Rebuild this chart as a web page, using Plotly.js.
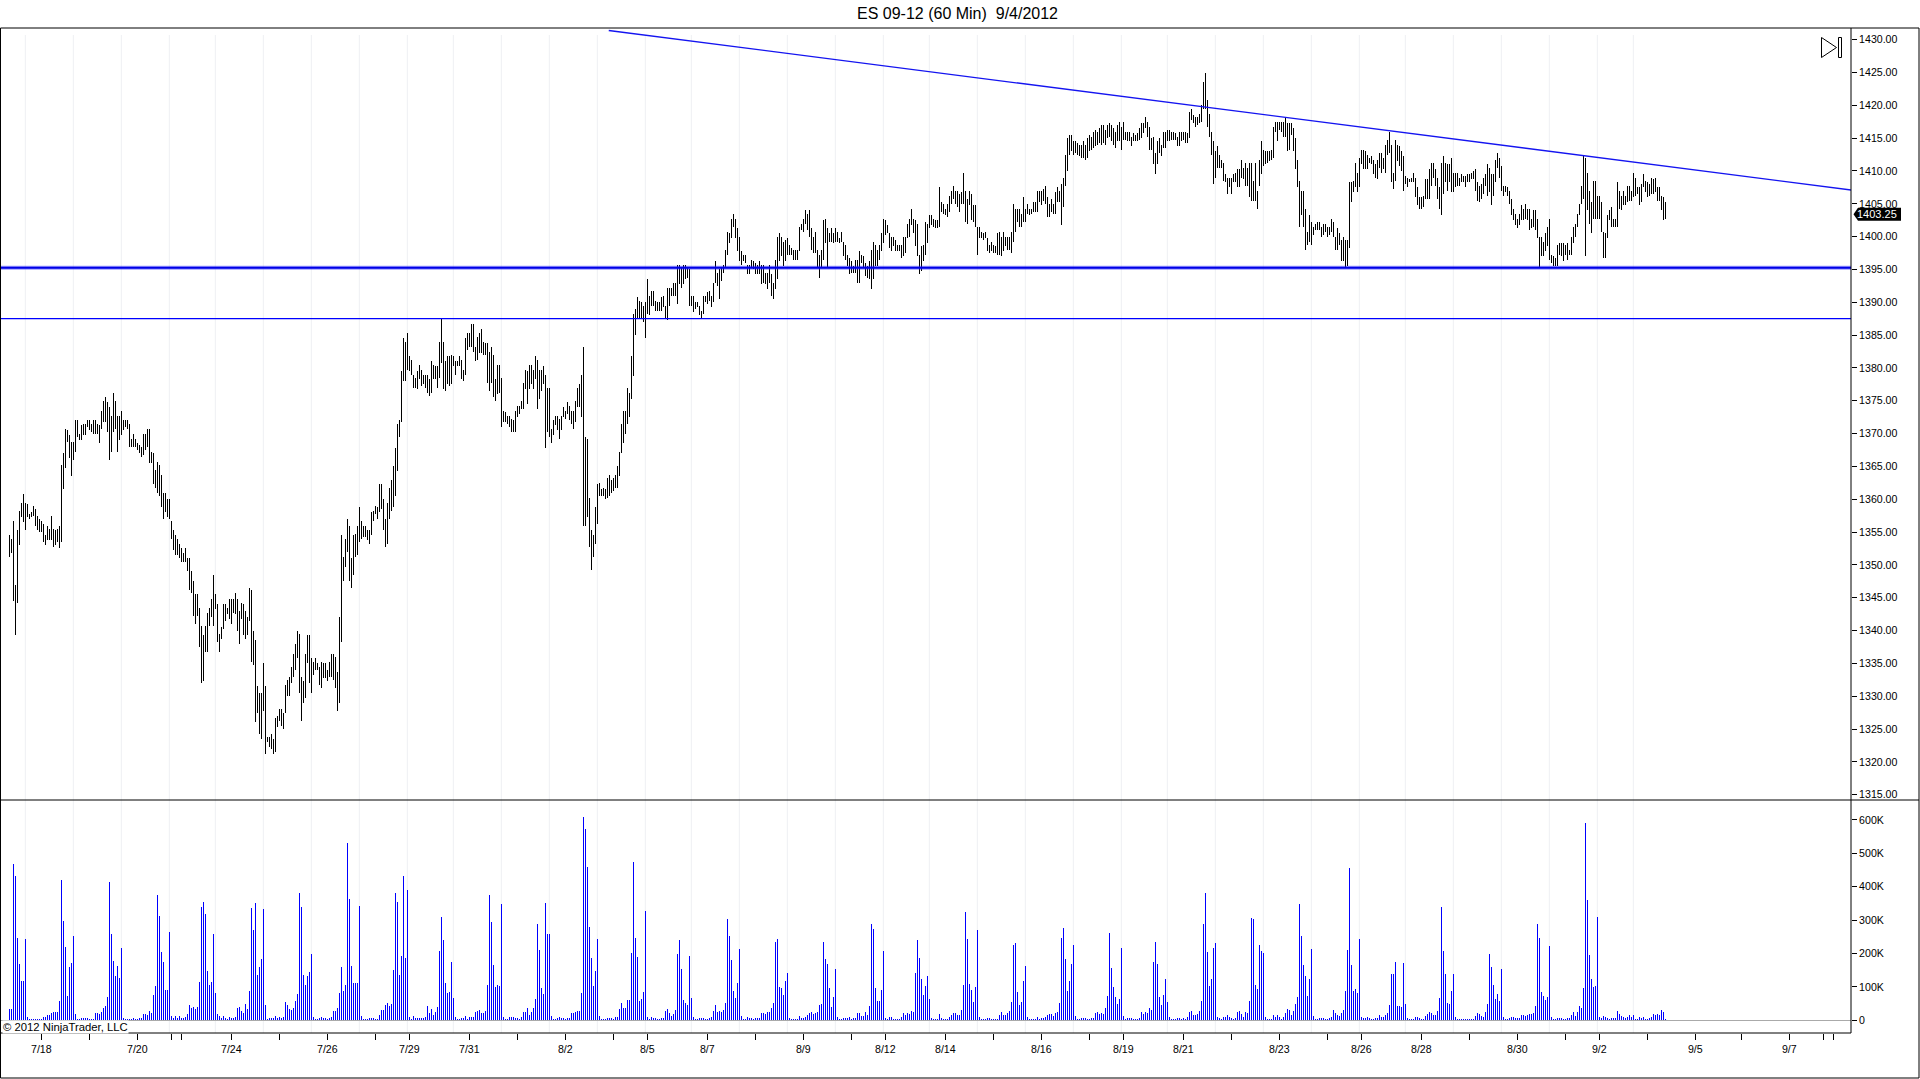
<!DOCTYPE html>
<html>
<head>
<meta charset="utf-8">
<script src="https://cdn.plot.ly/plotly-3.0.1.min.js"></script>
<style>html,body{margin:0;padding:0;background:#fff;overflow:hidden}#chart{width:1920px;height:1079px}</style>
</head>
<body>
<div id="chart"></div>
<script>
const titleText = "ES 09-12 (60 Min)\u00A0\u00A09/4/2012";
const copyrightText = "\u00A9 2012 NinjaTrader, LLC";
const lastPrice = 1403.25;
const supportLevel = 1395.25;
const secondLevel = 1387.5;

const highsA = [1354.5,1354,1356.75,1347,1355.25,1358.25,1359.5,1360.75,1359.5,1359.25,
1357.75,1358,1359,1358.5,1357.5,1357,1356.75,1356.25,1354.5,1356,
1355.5,1357.5,1355.5,1355.25,1355.5,1356,1365.25,1367,1370.75,1370.5,
1369.75,1368.75,1368.75,1372,1372,1370,1371.25,1371.5,1371.5,1372,
1372,1371.5,1372,1372,1371.5,1371.25,1373.5,1375,1375.5,1374.75,
1374,1372.75,1376.25,1375,1372.75,1372.75,1373.5,1372,1372,1372,
1371.5,1369.25,1370,1369.25,1368.5,1368.25,1368,1370,1370,1370.75,
1370.75,1367.25,1367,1364.5,1365.75,1365.25,1363.75,1361,1361,1360,
1360,1356.75,1355.25,1354.5,1354,1353.25,1352.5,1351.75,1352.5,1351,
1351,1349,1347.5,1345.5,1345.5,1343.5,1340.75,1339.25,1340.75,1342.75,
1343.5,1344.75,1348.5,1345.5,1344,1339.5,1340.5,1344,1344,1343.5,
1344.75,1344.75,1344.75,1345.75,1344.75,1343,1344.25,1344,1343,1342,
1346.5,1346.25,1340,1338.5,1331.5,1330.5,1330.5,1335,1331.5,1323.75,
1323.75,1324.25,1323.5,1326.75,1327,1328];
const lowsA = [1351.25,1351.75,1344.5,1339.25,1344.25,1353,1357.25,1356.5,1355.25,1357.25,
1357,1357.25,1357.5,1356,1355.25,1355,1355,1353.5,1353,1353.75,
1353.75,1353.75,1352.75,1353,1353.5,1352.5,1353.5,1361.5,1364.75,1368.75,
1366.25,1363.5,1366,1367.25,1369.5,1369,1369,1369.75,1369.75,1371,
1370.5,1370.25,1370,1370,1370,1368.5,1370.75,1371.75,1371.75,1370.25,
1366,1367.25,1370.25,1370.75,1367.25,1369,1369.75,1370.5,1371,1370.75,
1368,1368,1368,1368,1367.5,1367,1366.5,1366.75,1367.5,1368,
1365.5,1365.5,1362.25,1361.75,1361,1360.5,1358.75,1357,1358,1357.25,
1357,1354,1352.25,1351.5,1351.5,1351,1350.5,1350.5,1350.5,1349,
1346.25,1345.75,1342.25,1341,1342.25,1337.5,1332,1332.25,1336.75,1336.75,
1340.75,1342,1340.75,1343.25,1338.25,1336.75,1338.75,1340.25,1341.5,1342.5,
1341.75,1341,1342.75,1342.5,1340,1338,1341.75,1339.25,1338.75,1339.25,
1341.5,1335.25,1334.75,1326,1327.5,1324.25,1323.5,1327.75,1321.25,1323,
1322.25,1322,1321.25,1321.5,1325.25,1326.25];

const highsB = [1328,1327.5,1331.75,1332.5,1333,1334.5,1336.5,1338,1340,1339.5,
1333,1332.25,1336.5,1339.25,1339.25,1335.75,1335.25,1335.75,1335,1334.5,
1335.25,1335,1335,1334,1335.25,1336.5,1336.5,1336,1333.75,1342,
1354.5,1351.25,1354,1357,1356,1351,1354.5,1354.75,1356,1358.75,
1356.75,1356,1356,1355.25,1355.25,1358,1358.25,1359,1358.75,1362.25,
1362.25,1360,1357,1359.5,1361.75,1363,1365,1367.75,1371.5,1372,
1379.5,1384.5,1384,1385.25,1381.75,1381.25,1379,1378.5,1379.5,1380.5,
1379.75,1379,1379,1379,1378.25,1381,1380.5,1380.25,1380.25,1384,
1387.5,1384,1381,1381.75,1381.75,1382,1381.75,1381,1381,1381.75,
1381.25,1379.75,1384.5,1385.25,1385.25,1386.75,1386.75,1383.25,1384.75,1385.25,
1386,1384,1383.75,1383.75,1382.5,1383.25,1382,1378.25,1380.5,1380.5,
1378.5,1373.5,1373.25,1372.75,1372.75,1372.25,1372,1373.5,1374.25,1374.25,
1375,1377.75,1379.75,1379.5,1380.5,1380.5,1379.75,1381.75,1381.25,1379.75,
1379.75,1380.25,1379,1377,1377,1370.75,1372,1372.75,1372.75,1372.25];
const lowsB = [1325.5,1325,1327.5,1330,1330,1332,1333,1334,1335.75,1330.5,
1326.25,1329,1329.75,1335,1332,1330.5,1333.25,1334,1334,1331.75,
1331.25,1332.75,1332.75,1332.25,1333,1333,1332.5,1331.25,1327.75,1329,
1338.25,1347.5,1349.75,1352,1347.5,1346.5,1348.5,1351.25,1351.5,1353.5,
1354,1354.25,1354.25,1353.75,1353.25,1354.5,1356.75,1357.75,1357,1358,
1358.5,1355.25,1352.75,1353.25,1357,1358.25,1358.75,1360.5,1364.25,1369.5,
1371.75,1378,1378,1379.75,1379.5,1379,1377,1377,1376.75,1378.25,
1377.25,1377.5,1377,1376.25,1375.75,1376.25,1378.25,1378.25,1377,1378.5,
1380.75,1376.75,1376.5,1377.5,1377.25,1377.5,1380.25,1379,1380.25,1380.25,
1378.25,1378,1379,1382.75,1383.25,1383.25,1382.5,1381,1381.25,1382.25,
1382.25,1382,1382,1377.75,1376.5,1377.75,1375.5,1375,1376,1376.25,
1371,1371.75,1371.75,1371.5,1371,1370.25,1370.25,1370.25,1372.5,1373,
1373.75,1373.75,1376.75,1374.5,1376.75,1377.5,1376.75,1378.25,1373.75,1375.25,
1376.5,1377.5,1367.75,1370.25,1369.5,1368.5,1369.75,1371.25,1370.5,1369.25];

const highsC = [1372.75,1374,1373.5,1374.75,1374.25,1373.5,1373.5,1375,1377,1377.5,
1379,1383.25,1369.5,1369.25,1360.25,1355.25,1354.5,1358.75,1362.25,1362.5,
1361.5,1361.75,1361.5,1363.25,1363.75,1363,1363.25,1363.75,1365,1367.25,
1371.5,1373.5,1373.5,1377,1376.25,1381.75,1388.25,1389,1390.75,1390.25,
1390,1389.5,1390,1393.5,1391,1391.75,1391.75,1390.25,1390,1390,
1390.75,1391,1389.5,1392.25,1392.25,1392.25,1393,1393,1395.75,1395.75,
1395.25,1395.75,1395.75,1395.25,1395,1391,1391,1390,1390,1389.5,
1388.75,1391,1391,1391.5,1391.75,1391,1393,1396.25,1394.5,1395,
1395.25,1395.75,1398,1400.75,1400.5,1402.75,1403.5,1402.75,1401.25,1400,
1397.75,1397.25,1397.25,1395.75,1395.75,1396.5,1396.25,1396,1395.75,1396.25,
1395.75,1395.75,1394.5,1394.5,1395.75,1394.25,1393,1396.5,1400,1400.5,
1400,1399.25,1399.5,1399.75,1398.75,1398.25,1398,1398,1398,1401.5,
1402,1402.75,1404,1403.5,1404,1401.25,1400,1400.75,1398,1397.25,
1398,1402.5,1402.75,1401.25,1400.5,1401.25,1400.5,1401.25,1400.75,1399.75];
const lowsC = [1370.5,1372.5,1372.25,1373,1372,1371.5,1370.75,1371.75,1374,1374,
1372.5,1356,1356,1357.25,1352.75,1349.25,1351.25,1353.25,1356.25,1360.5,
1360.5,1360.5,1360,1360.25,1360.5,1361,1361.25,1361.75,1361.75,1363.5,
1367,1368.5,1370,1371.5,1372.5,1375.25,1378.75,1385,1387.5,1387.5,
1387.5,1387,1384.5,1388.25,1388,1389.5,1389.5,1388.75,1388.75,1388.75,
1388.75,1389.25,1387.5,1387.25,1389.5,1391,1391,1391,1389.75,1392.75,
1392.25,1392.75,1393.5,1393.75,1389.5,1389.5,1388.5,1389,1389.25,1388,
1387.5,1388.25,1390,1389.75,1390.25,1389.25,1390,1393,1392.5,1390.5,
1393.25,1394.5,1395.25,1397.25,1399,1399.75,1401.5,1399.75,1397.75,1396.25,
1395.75,1396.25,1396,1394.25,1394.25,1395.25,1395,1394.25,1394.25,1394.25,
1392.75,1393,1392.75,1392,1393,1391,1390.5,1392,1393.5,1396.25,
1397,1395.5,1396.25,1397.25,1397.25,1397.25,1396.5,1396.5,1396.5,1397.75,
1401,1400.75,1402,1401,1400,1398,1397.5,1397.5,1395.25,1393.75,
1395.25,1396.5,1399,1395.25,1399.25,1399.25,1399,1399.25,1399.25,1399];

const highsD = [1400.75,1399.25,1398.75,1397.25,1396.75,1396.25,1395.5,1396.5,1396.5,1397.75,
1397.25,1397,1396,1395.5,1396.25,1398,1399.25,1398.75,1398,1398.75,
1400.5,1402.75,1402.5,1401.75,1400.5,1400,1400,1399.5,1398.75,1398.75,
1398.75,1400,1400,1402,1402.75,1404.25,1402.75,1402.5,1402,1397.25,
1398.5,1398.75,1402.25,1402,1403.25,1403.25,1402.75,1402.5,1402.5,1407.5,
1405.25,1405,1404.25,1405,1406.25,1407,1407.75,1407,1407,1406.5,
1406.75,1409.75,1407,1405.75,1407,1406.5,1404.75,1404.75,1401.5,1401.5,
1400.75,1400.5,1400.75,1399.75,1398.75,1399.25,1398.75,1398.5,1400.5,1400.75,
1400,1400.75,1400,1400,1400,1400.75,1405,1404.25,1404.25,1404.25,
1403.5,1406,1404.25,1405,1404.25,1404.25,1405.25,1405.25,1407,1407,
1407,1407.25,1407.75,1406,1405,1405.75,1405,1406.75,1407.5,1407,
1408,1409,1412.5,1415,1415.5,1415.5,1414.5,1414.5,1414.25,1414,
1414,1414.5,1414,1415,1415.5,1415.25,1416,1416.25,1416,1416.5,
1417,1417,1416.25,1417,1417.25,1417,1416.5,1416,1417,1417.5];
const lowsD = [1399.25,1397,1396.5,1395.5,1394.25,1394.5,1394.5,1394.5,1393,1393,
1396,1395.25,1394,1393.75,1393.5,1392,1393.5,1395.5,1395.5,1396.5,
1397.75,1399,1400.25,1400.5,1398.25,1397.75,1398.5,1397.75,1397.75,1397.75,
1396.75,1397,1397.5,1399.75,1400,1401.75,1400.5,1398.5,1397,1394.25,
1394.75,1396.25,1397.25,1399,1401.25,1401.75,1401.5,1401.25,1401.25,1401.5,
1403.75,1403.5,1403.25,1403,1403.75,1405,1405.75,1405,1404.5,1403.75,
1405,1405,1402.25,1402,1404.75,1402.5,1402.25,1401.5,1397.25,1399.75,
1399.75,1399.5,1399.75,1397.75,1397.5,1397.75,1397.5,1397.5,1397.25,1397.25,
1397,1397.75,1398.5,1398,1398,1397.5,1399.25,1400.75,1402.25,1401.5,
1401.5,1402.25,1402.25,1403.5,1403.25,1403.5,1403.75,1403.75,1403.75,1405.25,
1404.75,1405.5,1405,1403,1403,1403.75,1403.5,1403.5,1405.25,1405.25,
1401.75,1404.5,1407.75,1410,1412.5,1413,1412.5,1412.75,1412.5,1412.25,
1412,1412,1411.75,1412,1413,1413.25,1413.5,1413.75,1414,1414.25,
1414,1414.25,1414,1415,1415.25,1414.5,1414,1413.5,1414.5,1414.5];

const highsE = [1416.75,1417.5,1416,1416,1416,1415.25,1415.75,1415.5,1415.75,1416.5,
1417.25,1417.25,1418.25,1417.5,1416.75,1415,1415.25,1412.75,1414.5,1415,
1414,1416,1416,1416.25,1416.25,1416,1416,1415.75,1415.25,1416,
1416,1416,1416,1415.75,1419,1419.5,1418.5,1418.25,1418.25,1418.75,
1420,1423.5,1425,1420.75,1418.75,1416,1414.5,1413,1413.75,1412.5,
1411.75,1411.25,1409.5,1409,1409,1409,1409.5,1409.75,1410.25,1410.25,
1411.75,1410.5,1411.25,1410.5,1411.25,1411.25,1408.5,1411.25,1407,1411.75,
1414.5,1413.25,1413,1413,1413,1413.25,1416.75,1417.5,1417.5,1417.5,
1417.5,1417.5,1418.25,1417.25,1417.25,1417.25,1416.5,1415,1411.75,1408.5,
1407,1407,1404.25,1400.75,1403.25,1402.25,1401.5,1402,1402.25,1402.25,
1401.5,1402,1402,1401.5,1401.5,1402.75,1402.25,1400,1401.25,1400.5,
1399.5,1400,1399.5,1399.5,1408.25,1408.25,1408.5,1411.25,1409.75,1412,
1413.25,1413.25,1413,1412.5,1412,1412.25,1411.75,1411,1411.75,1412.75,
1412.75,1412,1414,1414.75,1416,1414,1409.75,1414.75,1414,1413.75];
const lowsE = [1413.25,1414.75,1414.75,1414.5,1414.5,1413.75,1414.5,1414.5,1414.5,1414.75,
1415,1415.75,1416.5,1415.25,1413.25,1413.25,1411,1409.5,1411,1412.75,
1412.25,1413.5,1413.5,1414.5,1414.5,1414.75,1414.75,1414.75,1413.75,1413.75,
1414.5,1414.75,1414.25,1414.25,1415,1417.75,1417.25,1416.75,1417,1417.25,
1417.5,1419.5,1419.5,1416.75,1415.25,1412.5,1408,1409,1410.5,1410.5,
1410.5,1408.5,1408.25,1406.5,1407.5,1406.5,1408.25,1408.25,1407.5,1407.5,
1409,1408.75,1407.75,1407.75,1406,1405.5,1405.5,1405.5,1404.25,1407.75,
1409.5,1410.75,1411,1411.25,1411.5,1411.75,1412,1416,1414.5,1416.25,
1416,1415.25,1415.25,1413,1413.25,1415.5,1413,1410.25,1407.5,1401.5,
1403.25,1401.5,1398,1398.75,1399.25,1398.75,1400.25,1401,1401,1401,
1400,1400.25,1400.75,1400,1400.25,1400.75,1400,1398,1398,1398.75,
1396.25,1396.25,1395.25,1395.5,1398.25,1405.25,1406.75,1407.5,1406.75,1407.5,
1411,1410.25,1410.25,1410.25,1411.25,1411,1409.5,1409,1408.75,1410.5,
1409.75,1410.25,1409.75,1412.5,1412.75,1408.25,1407.25,1408.5,1411.5,1410.75];

const highsF = [1413,1412.25,1409.25,1409,1408.75,1409,1409.75,1409,1407.5,1406,
1406,1406.25,1408.75,1408.75,1410.25,1411.25,1411.25,1410.25,1409,1407.5,
1411.25,1412.25,1411.25,1411,1411,1412,1409.75,1409.75,1409.75,1409,
1409.5,1409.25,1409.25,1409.5,1409.5,1409.75,1410,1410.25,1408.25,1407.75,
1408,1409,1409.5,1411,1410.5,1409.5,1409.5,1411.75,1412.75,1412,
1410.75,1407.75,1407.75,1407.5,1407,1405.75,1404.25,1403.5,1402.75,1403.5,
1404.75,1404.25,1405,1404.25,1404.25,1402.75,1404,1404,1402.75,1400,
1400,1399.25,1400.5,1401.5,1402.75,1397.25,1397,1396.75,1398.75,1399,
1399,1399,1398.75,1399,1398,1400,1401.5,1402,1403.5,1405,
1407.75,1412.5,1412,1409.75,1407,1405.25,1408.5,1408.5,1406.25,1406.25,
1405.25,1400.75,1400.5,1403.25,1404,1404.5,1402.75,1402.75,1408.25,1407,
1406.25,1407,1406.25,1407.75,1407.75,1407,1409.75,1409,1407.5,1407.5,
1408,1409.5,1408.5,1408.25,1408,1409,1408.75,1409,1407.5,1407.5,
1406.25,1406,1405.25];
const lowsF = [1410,1407,1408,1407.5,1408.25,1408.25,1408.25,1406,1404.75,1404.25,
1404.25,1404.5,1405.75,1405.75,1405.75,1407.75,1409,1407.75,1405.75,1404.25,
1403.25,1406.5,1408.25,1407,1408.25,1406.75,1406.75,1407.5,1407.75,1407.75,
1408.25,1408.25,1407.5,1408.25,1408.25,1408.75,1408.75,1407,1405.5,1405.25,
1405.75,1406.5,1407.75,1406.25,1406.75,1404.75,1406.25,1408.25,1410.5,1409,
1407,1406.25,1406.75,1406.25,1405,1403.25,1402.5,1401.75,1401.25,1401.75,
1402.5,1402.5,1402.75,1402.5,1401,1401.25,1401.5,1401,1399.75,1395.25,
1397,1397,1397.75,1398.5,1396.5,1396,1395.5,1395.5,1395.5,1397.25,
1397,1396.25,1397.25,1396.5,1397.25,1397.25,1399,1400,1401.5,1403.25,
1405,1405.75,1397,1404,1402,1400.5,1402.75,1402.75,1402.75,1402.75,
1400.75,1396.75,1396.75,1399.75,1402.5,1401.5,1401.5,1401.5,1401.5,1404.25,
1404,1404.75,1404.75,1405.25,1405.5,1405.5,1406,1406.25,1406.5,1404.75,
1405.25,1407.5,1406.75,1406,1406.25,1406.5,1406.5,1406.75,1405.5,1405.5,
1404,1402.5,1402.75];

/* Volume, in contracts (thousands) */
const volumeK = [34,34,469,433,247,169,118,118,244,10,5,3,5,5,5,5,5,10,10,16,16,22,25,24,25,58,421,298,220,73,160,172,253,19,3,5,7,7,7,7,3,5,5,22,22,19,25,37,43,70,
415,259,178,133,163,127,217,7,5,3,5,3,7,5,5,7,7,19,19,16,28,22,76,103,376,313,205,175,91,91,265,13,7,13,7,13,7,7,10,19,46,37,40,34,40,115,340,355,319,148,
106,115,259,82,19,13,7,13,7,4,10,7,7,10,37,40,28,22,49,34,88,337,271,352,136,160,184,334,46,4,7,7,7,13,7,10,7,10,55,46,34,31,37,58,79,382,340,136,106,133,
145,199,10,4,4,7,10,7,7,4,7,10,28,28,37,82,160,88,106,532,364,163,112,112,112,343,13,4,4,4,7,7,7,4,4,16,31,31,46,52,43,49,151,382,355,136,193,433,187,391,
10,4,13,7,7,7,7,7,10,43,22,34,16,25,40,208,310,241,112,82,85,175,67,10,4,4,7,7,13,4,10,10,10,25,28,31,22,22,28,106,376,295,166,100,106,103,349,10,4,4,10,10,
10,7,7,4,10,25,25,37,16,25,37,64,289,211,97,79,352,259,259,13,4,4,7,10,7,7,4,7,7,22,22,25,28,28,82,610,574,460,280,187,103,148,244,13,4,4,4,7,7,7,4,10,10,34,
52,37,37,61,61,202,475,247,190,58,64,85,328,10,4,10,7,7,4,4,7,7,28,34,22,13,19,31,199,241,154,61,52,46,193,67,10,4,4,7,7,7,4,4,7,10,28,46,25,28,25,31,52,304,
253,181,88,67,112,214,13,4,4,10,7,7,4,7,7,7,22,22,19,25,25,37,52,235,244,100,97,76,118,142,7,4,4,4,4,13,7,7,10,16,22,25,19,22,25,46,49,235,184,169,97,40,70,154,
10,4,4,7,7,7,10,4,7,7,22,22,13,13,25,16,43,289,274,97,58,58,91,208,7,4,10,10,4,4,4,4,10,22,16,22,19,28,25,142,241,187,124,76,103,133,64,7,4,4,4,19,7,4,4,4,
10,16,22,22,16,16,31,106,325,244,109,91,55,100,271,10,4,4,4,7,7,4,4,4,4,16,25,16,16,22,28,55,226,232,85,46,55,118,163,10,4,4,4,4,10,4,7,7,10,16,19,19,13,22,25,
52,247,277,184,88,118,169,226,13,4,4,7,7,7,4,4,7,7,22,25,19,22,19,37,73,262,157,100,70,49,64,217,13,4,7,7,7,4,4,4,7,25,19,25,22,37,31,175,235,169,70,46,76,124,
55,10,4,4,4,7,7,4,7,4,10,25,28,16,16,19,28,58,289,382,205,103,124,217,232,10,7,4,10,10,16,10,7,4,7,25,28,19,10,25,22,58,307,304,106,94,226,208,202,10,4,4,4,16,10,16,
10,4,10,22,34,31,16,28,49,70,349,253,166,133,73,124,214,13,4,4,7,7,7,4,4,7,10,31,22,16,13,22,31,88,211,457,166,88,94,82,244,10,7,7,10,7,4,4,7,7,16,10,10,16,22,46,
139,139,175,43,43,40,172,49,7,4,4,4,10,10,7,4,4,13,19,25,22,16,16,28,67,340,208,139,52,49,88,139,10,4,4,4,4,4,4,4,4,4,13,22,19,13,10,25,49,199,160,106,64,79,58,154,
10,4,4,7,10,10,7,7,7,16,16,13,16,19,19,22,43,289,247,85,73,61,70,223,10,4,4,7,7,7,4,4,7,7,16,25,13,25,43,37,97,592,361,196,124,100,103,310,10,7,13,10,7,4,7,7,7,28,
19,13,10,7,10,16,10,16,4,4,10,7,10,4,4,7,10,19,16,19,16,31,25,3];

/* Positions of the light vertical session grid lines and of the bottom ticks, in bar numbers */
const gridBars = [8,32,56,80,103,127,151,175,199,222,246,270,294,318,341,365,389,413,437,460,484,508,532,556,579,603,627,651,675,698,722,746,770,794,812];
const tickBars = [16,40,64,81,86,111,135,159,183,200,230,254,278,302,319,349,373,397,421,438,468,492,516,540,557,587,611,635,659,676,706,730,754,778,795,819,843,866,890,907,912];
const labelBars = [16,64,111,159,200,230,278,319,349,397,438,468,516,557,587,635,676,706,754,795,843,890];
const labelTexts = ["7/18","7/20","7/24","7/26","7/29","7/31","8/2","8/5","8/7","8/9","8/12","8/14","8/16","8/19","8/21","8/23","8/26","8/28","8/30","9/2","9/5","9/7"];
const priceTicks = [1315,1320,1325,1330,1335,1340,1345,1350,1355,1360,1365,1370,1375,1380,1385,1390,1395,1400,1405,1410,1415,1420,1425,1430];
const volumeTicks = [0,100,200,300,400,500,600];
const volumeTickLabels = ["0","100K","200K","300K","400K","500K","600K"];
const trendBars = [299.7,921];
const trendPrices = [1431.4,1407.1];

const highs = [...highsA,...highsB,...highsC,...highsD,...highsE,...highsF];
const lows = [...lowsA,...lowsB,...lowsC,...lowsD,...lowsE,...lowsF];
const bars = highs.map((_,i)=>i);
const volBars = volumeK.map((_,i)=>i);
const tickTexts = tickBars.map(b=>{const k=labelBars.indexOf(b);return k<0?"":labelTexts[k];});

const FONT = "Liberation Sans, Arial, sans-serif";
const AXIS_SIZE = 10.6;
const PLOT_R = 1851, PLOT_T = 28, PLOT_B = 1033, SPLIT = 800;
const xp = px => px/PLOT_R;
const yp = py => (PLOT_B-py)/(PLOT_B-PLOT_T);
const frameLine = {color:"#000",width:1};
const pline = (x0,y0,x1,y1,line) => ({type:"line",xref:"paper",yref:"paper",x0:xp(x0),x1:xp(x1),y0:yp(y0),y1:yp(y1),line:line||frameLine});

const traces = [
 {type:"bar",x:bars,y:highs.map((h,i)=>h-lows[i]),base:lows,width:0.5,xaxis:"x",yaxis:"y",
  marker:{color:"#000",line:{width:0}},hoverinfo:"skip",showlegend:false},
 {type:"scatter",mode:"lines",x:[-5,921],y:[supportLevel,supportLevel],xaxis:"x",yaxis:"y",
  line:{color:"rgba(40,40,255,0.45)",width:4},hoverinfo:"skip",showlegend:false},
 {type:"scatter",mode:"lines",x:[-5,921],y:[supportLevel,supportLevel],xaxis:"x",yaxis:"y",
  line:{color:"#0000e6",width:2},hoverinfo:"skip",showlegend:false},
 {type:"scatter",mode:"lines",x:[-5,921],y:[secondLevel,secondLevel],xaxis:"x",yaxis:"y",
  line:{color:"#0000ff",width:1.2},hoverinfo:"skip",showlegend:false},
 {type:"scatter",mode:"lines",x:trendBars,y:trendPrices,xaxis:"x",yaxis:"y",
  line:{color:"#1414f0",width:1.3},hoverinfo:"skip",showlegend:false},
 {type:"bar",x:volBars,y:volumeK,width:0.5,xaxis:"x",yaxis:"y2",
  marker:{color:"#0000ff",line:{width:0}},hoverinfo:"skip",showlegend:false}
];

const shapes = [];
gridBars.forEach(b=>shapes.push({type:"line",xref:"x",yref:"paper",x0:b,x1:b,y0:0,y1:yp(35),layer:"below",line:{color:"#eef0f3",width:1}}));
shapes.push(
 pline(0.5,PLOT_T,1919,PLOT_T), pline(0.5,PLOT_T,0.5,1078), pline(1919,PLOT_T,1919,1078), pline(0.5,1078,1919,1078),
 pline(0.5,SPLIT,1919,SPLIT), pline(0.5,PLOT_B,PLOT_R,PLOT_B), pline(PLOT_R,PLOT_T,PLOT_R,PLOT_B),
 /* end-of-chart button */
 {type:"path",xref:"paper",yref:"paper",line:{color:"#000",width:1},fillcolor:"rgba(0,0,0,0)",
  path:`M ${xp(1821.5)} ${yp(37.5)} L ${xp(1836.5)} ${yp(47.5)} L ${xp(1821.5)} ${yp(57.5)} Z`},
 {type:"rect",xref:"paper",yref:"paper",x0:xp(1838.5),x1:xp(1841.5),y0:yp(37.5),y1:yp(57.5),line:{color:"#000",width:1},fillcolor:"rgba(0,0,0,0)"},
 /* last price flag */
 {type:"path",xref:"paper",xsizemode:"pixel",xanchor:1,yref:"y",ysizemode:"pixel",yanchor:lastPrice+0.15,
  path:"M 2.5 0 L 7 -6.5 L 50 -6.5 L 50 6.5 L 7 6.5 Z",fillcolor:"#000",line:{width:0}}
);

const annotations = [
 {xref:"paper",yref:"paper",x:xp(957.5),y:yp(13.5),text:titleText,showarrow:false,xanchor:"center",yanchor:"middle",font:{family:FONT,size:16,color:"#000"}},
 {xref:"paper",yref:"paper",x:xp(2),y:yp(1027),text:copyrightText,showarrow:false,xanchor:"left",yanchor:"middle",font:{family:FONT,size:11.3,color:"#000"},bgcolor:"#fff",borderpad:0},
 {xref:"paper",yref:"y",x:xp(1877.5),y:lastPrice+0.15,text:String(lastPrice),showarrow:false,xanchor:"center",yanchor:"middle",font:{family:FONT,size:11,color:"#fff"}}
];

const layout = {
 width:1920,height:1079,autosize:false,showlegend:false,
 paper_bgcolor:"#fff",plot_bgcolor:"rgba(0,0,0,0)",
 margin:{l:0,r:1920-PLOT_R,t:PLOT_T,b:1079-PLOT_B,pad:0},
 barmode:"overlay",bargap:0,
 font:{family:FONT,size:AXIS_SIZE,color:"#000"},
 xaxis:{domain:[0,1],range:[-4.665,920.835],anchor:"y2",side:"bottom",tickmode:"array",tickvals:tickBars,ticktext:tickTexts,
  ticks:"outside",ticklen:6,tickwidth:1,tickcolor:"#000",showgrid:false,zeroline:false,showline:false,tickangle:0,
  tickfont:{family:FONT,size:AXIS_SIZE,color:"#000"},automargin:false},
 yaxis:{domain:[yp(SPLIT),1],range:[1314.19,1431.78],anchor:"x",side:"right",tickmode:"array",tickvals:priceTicks,
  ticktext:priceTicks.map(v=>v.toFixed(2)),ticks:"outside",ticklen:5,tickwidth:1,tickcolor:"#000",showgrid:false,zeroline:false,showline:false,
  tickfont:{family:FONT,size:AXIS_SIZE,color:"#000"},automargin:false},
 yaxis2:{domain:[0,yp(SPLIT)],range:[-38,659.6],anchor:"x",side:"right",tickmode:"array",tickvals:volumeTicks,ticktext:volumeTickLabels,
  ticks:"outside",ticklen:5,tickwidth:1,tickcolor:"#000",showgrid:false,zeroline:true,zerolinecolor:"#aaaaaa",zerolinewidth:1,showline:false,
  tickfont:{family:FONT,size:AXIS_SIZE,color:"#000"},automargin:false},
 shapes,annotations
};
Plotly.newPlot("chart",traces,layout,{displayModeBar:false,staticPlot:true,responsive:false});
</script>
</body>
</html>
